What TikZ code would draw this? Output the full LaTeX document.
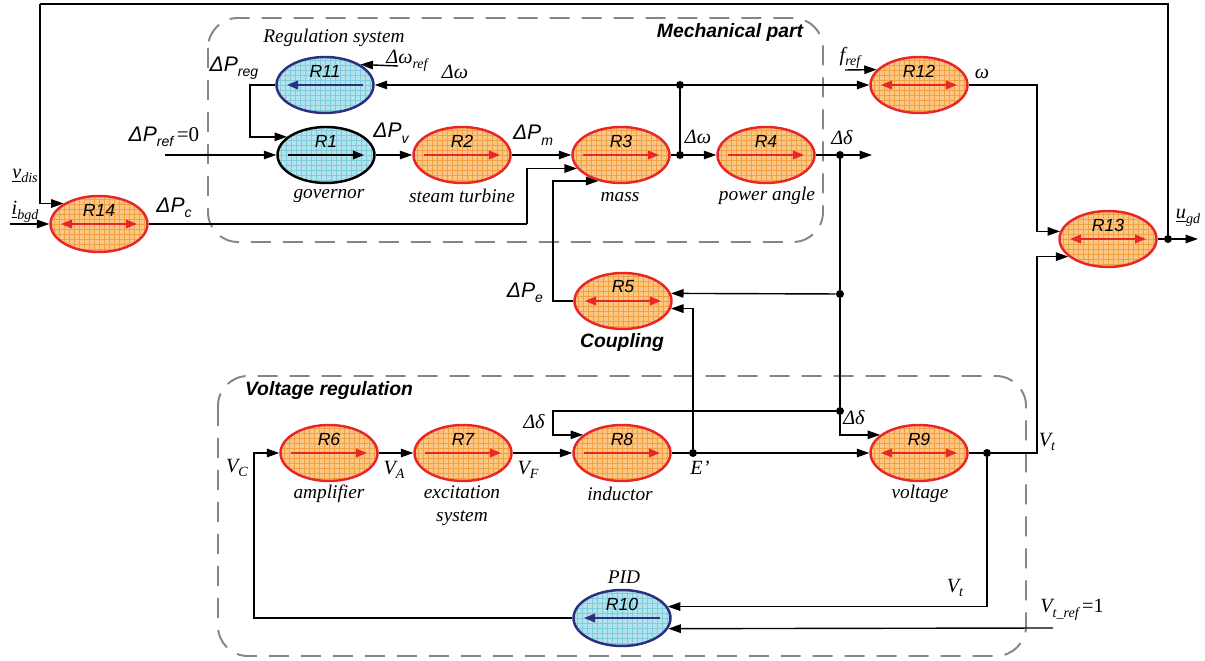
\documentclass[tikz,border=0pt]{standalone}
\usepackage{fontspec}
\setmainfont{Liberation Serif}
\setsansfont{Liberation Sans}
\usetikzlibrary{shapes.geometric,arrows.meta,calc}
\definecolor{ofill}{HTML}{FAC786}
\definecolor{ogrid}{HTML}{F2A040}
\definecolor{bfill}{HTML}{B3E3ED}
\definecolor{bgrid}{HTML}{7FCBDB}
\definecolor{rline}{HTML}{E8262A}
\definecolor{nline}{HTML}{2B2F7F}
\definecolor{dgrey}{HTML}{858585}
\newcommand\sbs[1]{\raisebox{-0.5ex}{\fontsize{8}{8}\selectfont #1}}
\tikzset{
  conn/.style={line width=0.8pt, -{Triangle[length=2.5mm,width=1.7mm]}},
  wire/.style={line width=0.8pt},
  ell/.style={ellipse, minimum width=1.94cm, minimum height=1.12cm, inner sep=0pt, line width=1.4pt},
  oell/.style={ell, draw=rline, fill=ofill, path picture={\draw[ogrid,line width=0.3pt,step=0.1cm] (path picture bounding box.south west) grid (path picture bounding box.north east);}},
  bell/.style={ell, draw=nline, fill=bfill, path picture={\draw[bgrid,line width=0.3pt,step=0.1cm] (path picture bounding box.south west) grid (path picture bounding box.north east);}},
  kell/.style={bell, draw=black},
  rarr/.style={draw=rline, line width=1.1pt, -{Triangle[length=2.2mm,width=1.7mm]}},
  rdarr/.style={draw=rline, line width=1.1pt, {Triangle[length=2.2mm,width=1.7mm]}-{Triangle[length=2.2mm,width=1.7mm]}},
  narr/.style={draw=nline, line width=1.1pt, {Triangle[length=2.2mm,width=1.7mm]}-},
  karr/.style={draw=black, line width=1.1pt, -{Triangle[length=2.2mm,width=1.7mm]}},
  rlab/.style={inner sep=0pt, font=\sffamily\itshape\fontsize{10}{11}\selectfont},
  tlab/.style={inner sep=0pt, font=\itshape\fontsize{11}{13}\selectfont, align=center},
  slab/.style={inner sep=0pt, font=\itshape\fontsize{11.5}{13}\selectfont},
  plab/.style={inner sep=0pt, font=\sffamily\itshape\fontsize{12}{13}\selectfont},
  blab/.style={inner sep=0pt, font=\sffamily\bfseries\itshape\fontsize{11}{13}\selectfont},
  dotn/.style={circle, fill=black, inner sep=0pt, minimum size=0.16cm},
  dbox/.style={draw=dgrey, line width=1.1pt, dash pattern=on 0.4cm off 0.24cm, rounded corners=0.6cm}
}
\newcommand\mkell[6]{%
  \node[#4] (#1) at (#2,#3) {};
  \node[rlab] (#1l) at ([yshift=0.28cm]#1.center) {#5};
  \draw[#6] ([xshift=-0.76cm]#1.center) -- ([xshift=0.76cm]#1.center);}
\begin{document}
\begin{tikzpicture}[x=0.02cm,y=-0.02cm]
\useasboundingbox (0,0) rectangle (1205,661);
% dashed groups
\draw[dbox] (208,18) rectangle (823,242);
\draw[dbox] (218,376) rectangle (1026,656);
% ellipses
\mkell{R11}{325}{85}{bell}{R11}{narr}
\mkell{R1}{326}{155}{kell}{R1}{karr}
\mkell{R2}{462}{155}{oell}{R2}{rarr}
\mkell{R3}{621}{155}{oell}{R3}{rarr}
\mkell{R4}{766}{155}{oell}{R4}{rarr}
\mkell{R12}{919}{85}{oell}{R12}{rdarr}
\mkell{R13}{1108}{239}{oell}{R13}{rdarr}
\mkell{R14}{99}{224}{oell}{R14}{rdarr}
\mkell{R5}{623}{301}{oell}{R5}{rdarr}
\mkell{R6}{329}{453}{oell}{R6}{rarr}
\mkell{R7}{463}{453}{oell}{R7}{rarr}
\mkell{R8}{622}{453}{oell}{R8}{rarr}
\mkell{R9}{919}{453}{oell}{R9}{rdarr}
\mkell{R10}{622}{618}{bell}{R10}{narr}
% dots
\node[dotn] (d1) at (680,85) {};
\node[dotn] (d2) at (680,155) {};
\node[dotn] (d3) at (840,155) {};
\node[dotn] (d4) at (840,294) {};
\node[dotn] (d5) at (840,411) {};
\node[dotn] (d6) at (693,453) {};
\node[dotn] (d7) at (987,453) {};
\node[dotn] (d8) at (1168,239) {};
% coordinates
\coordinate (c1) at (1168,4);
\coordinate (c2) at (40,4);
\coordinate (ib) at (10,224);
\coordinate (b6) at (527,224);
\coordinate (b7) at (553,301);
\coordinate (b8) at (1037,85);
\coordinate (b4) at (1037,453);
\coordinate (b3) at (553,411);
\coordinate (b5) at (254,618);
\coordinate (b9) at (250,85);
\coordinate (pref) at (165,155);
\coordinate (wref) at (398,66);
\coordinate (fref) at (845,70);
\coordinate (out1) at (872,155);
\coordinate (uout) at (1198,239);
\coordinate (vtref) at (1053,628);
% mechanical part connectors
\draw[conn] (wref) -- (R11.30);
\draw[conn] (R11.west) -- (b9) |- (R1.155);
\draw[conn] (pref) -- (R1.west);
\draw[conn] (R1.east) -- (R2.west);
\draw[conn] (R2.east) -- (R3.west);
\draw[wire] (R3.east) -- (d2);
\draw[conn] (d2) -- (R4.west);
\draw[wire] (d2) -- (d1);
\draw[conn] (d1) -- (R11.east);
\draw[conn] (d1) -- (R12.west);
\draw[conn] (fref) -- (R12.160);
\draw[wire] (R4.east) -- (d3);
\draw[conn] (d3) -- (out1);
% outer loop
\draw[wire] (d8) -- (c1) -- (c2);
\draw[conn] (c2) |- (R14.150);
\draw[conn] (ib) -- (R14.west);
\draw[wire] (R14.east) -- (b6);
\draw[conn] (b6) |- (R3.197);
\draw[conn] (R5.west) -- (b7) |- (R3.229);
\draw[conn] (R12.east) -- (b8) |- (R13.171);
\draw[wire] (R13.east) -- (d8);
\draw[conn] (d8) -- (uout);
% coupling
\draw[wire] (d3) -- (d4) -- (d5);
\draw[conn] (d4) -- (R5.9);
\draw[conn] (d6) |- (R5.351);
\draw[conn] (d5) -- (b3) |- (R8.155);
\draw[conn] (d5) |- (R9.155);
% voltage regulation
\draw[conn] (R6.east) -- (R7.west);
\draw[conn] (R7.east) -- (R8.west);
\draw[wire] (R8.east) -- (d6);
\draw[conn] (d6) -- (R9.west);
\draw[wire] (R9.east) -- (d7);
\draw[conn] (d7) -- (b4) |- (R13.204);
\draw[conn] (d7) |- (R10.14);
\draw[conn] (vtref) -- (R10.347);
\draw[conn] (R10.west) -- (b5) |- (R6.west);
% labels
\node[tlab] (lreg) at (334,38) {Regulation system};
\node[blab] (lmech) at (730,33) {Mechanical part};
\node[blab] (lvolt) at (329,391) {Voltage regulation};
\node[blab] (lcoup) at (622,343) {Coupling};
\node[plab] (lpreg) at (234,68) {ΔP\sbs{reg}};
\node[slab] (lwref) at (407,61) {Δω\sbs{ref}};
\node[slab] (lw1) at (455,72) {Δω};
\node[plab] (lpref) at (164,137) {ΔP\sbs{ref}\,{\rmfamily\upshape =0}};
\node[plab] (lpv) at (391,133) {ΔP\sbs{v}};
\node[plab] (lpm) at (533,135) {ΔP\sbs{m}};
\node[slab] (lw2) at (698,137) {Δω};
\node[slab] (ld1) at (842,138) {Δδ};
\node[slab] (lfref) at (850,58) {f\sbs{ref}};
\node[slab] (lom) at (982,74) {ω};
\node[slab] (lugd) at (1188,218) {\underline{u}\sbs{gd}};
\node[slab] (lvdis) at (25,176) {\underline{v}\sbs{dis}};
\node[slab] (libgd) at (25,212) {\underline{i}\sbs{bgd}};
\node[plab] (lpc) at (174,208) {ΔP\sbs{c}};
\node[plab] (lpe) at (525,293) {ΔP\sbs{e}};
\node[tlab] (lgov) at (329,196) {governor};
\node[tlab] (lst) at (462,196) {steam turbine};
\node[tlab] (lmass) at (620,197) {mass};
\node[tlab] (lpa) at (767,196) {power angle};
\node[tlab] (lamp) at (329,494) {amplifier};
\node[tlab] (lexc) at (462,506) {excitation\\system};
\node[tlab] (lind) at (620,494) {inductor};
\node[tlab] (lvol) at (920,494) {voltage};
\node[tlab] (lpid) at (624,577) {PID};
\node[slab] (lvc) at (237,468) {V\sbs{C}};
\node[slab] (lva) at (394,470) {V\sbs{A}};
\node[slab] (lvf) at (528,470) {V\sbs{F}};
\node[slab] (ld2) at (534,422) {Δδ};
\node[slab] (lep) at (700,468) {E’};
\node[slab] (ld3) at (854,418) {Δδ};
\node[slab] (lvt1) at (1047,442) {V\sbs{t}};
\node[slab] (lvt2) at (955,588) {V\sbs{t}};
\node[slab] (lvtr) at (1072,610) {V\sbs{t\_ref}\,{\upshape =1}};
\end{tikzpicture}
\end{document}
